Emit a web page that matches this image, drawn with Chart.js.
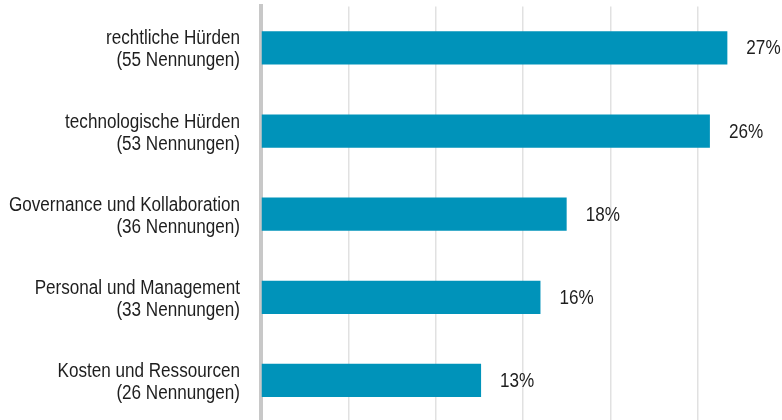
<!DOCTYPE html>
<html>
<head>
<meta charset="utf-8">
<script src="https://cdn.jsdelivr.net/npm/chart.js@4/dist/chart.umd.min.js"></script>
<style>
  html, body { margin: 0; padding: 0; background: #ffffff; overflow: hidden; }
  #wrap { position: relative; width: 785px; height: 422px; }
</style>
</head>
<body>
<div id="wrap"><canvas id="c" width="785" height="422"></canvas></div>
<script>
const categories = ['rechtliche Hürden', 'technologische Hürden', 'Governance und Kollaboration', 'Personal und Management', 'Kosten und Ressourcen'];
const mentions = ['(55 Nennungen)', '(53 Nennungen)', '(36 Nennungen)', '(33 Nennungen)', '(26 Nennungen)'];
const values = [26.7, 25.7, 17.5, 16.0, 12.6];
const valueLabels = ['27%', '26%', '18%', '16%', '13%'];
const xTicks = [0, 5, 10, 15, 20, 25, 30];

const FONT = '"Liberation Sans", Arial, sans-serif';
const SQUEEZE = 0.855;           // condensed look
const TEXT_COLOR = '#1e1e1e';
const labels = categories.map((c, i) => [c, mentions[i]]);

function condensedText(ctx, text, x, y, align) {
  ctx.save();
  ctx.translate(x, y);
  ctx.scale(SQUEEZE, 1);
  ctx.textAlign = align;
  ctx.fillText(text, 0, 0);
  ctx.restore();
}

const textPlugin = {
  id: 'condensedLabels',
  afterDatasetsDraw(chart) {
    const ctx = chart.ctx;
    const meta = chart.getDatasetMeta(0);
    const yScale = chart.scales.y;
    ctx.save();
    ctx.font = '20px ' + FONT;
    ctx.fillStyle = TEXT_COLOR;
    ctx.textBaseline = 'middle';
    // value labels right of bars
    meta.data.forEach((bar, i) => {
      condensedText(ctx, valueLabels[i], bar.x + 19, bar.y + 1, 'left');
    });
    // category labels (two lines), right aligned left of the axis
    const xRight = chart.chartArea.left - 21;
    chart.data.labels.forEach((lines, i) => {
      const yc = yScale.getPixelForTick(i) + 2;
      const lh = 22;
      const y0 = yc - (lines.length - 1) * lh / 2;
      lines.forEach((line, j) => condensedText(ctx, line, xRight, y0 + j * lh, 'right'));
    });
    ctx.restore();
  }
};

new Chart(document.getElementById('c'), {
  type: 'bar',
  data: {
    labels: labels,
    datasets: [{
      data: values,
      backgroundColor: '#0093ba',
      borderWidth: 0,
      categoryPercentage: 0.4,
      barPercentage: 1.0
    }]
  },
  options: {
    indexAxis: 'y',
    responsive: false,
    animation: false,
    devicePixelRatio: 1,
    layout: { padding: { top: 6.4, right: 0, bottom: 0, left: 0 } },
    plugins: { legend: { display: false }, tooltip: { enabled: false } },
    scales: {
      x: {
        min: 0,
        max: 30,
        afterBuildTicks(scale) { scale.ticks = xTicks.map(v => ({ value: v })); },
        afterFit(scale) { scale.height = 0; scale.paddingLeft = 0; scale.paddingRight = 0; },
        ticks: { display: false },
        border: { display: false },
        grid: {
          drawTicks: false,
          color: (c) => (c.tick && c.tick.value === 0) ? 'rgba(0,0,0,0)' : '#e1e1e1',
          lineWidth: 1.5
        }
      },
      y: {
        z: 1,
        afterFit(scale) { scale.width = 261; scale.paddingTop = 0; scale.paddingBottom = 0; },
        border: { display: true, color: '#c8c8c8', width: 4 },
        grid: { display: false, drawTicks: false },
        ticks: { display: false }
      }
    }
  },
  plugins: [textPlugin]
});
</script>
</body>
</html>
